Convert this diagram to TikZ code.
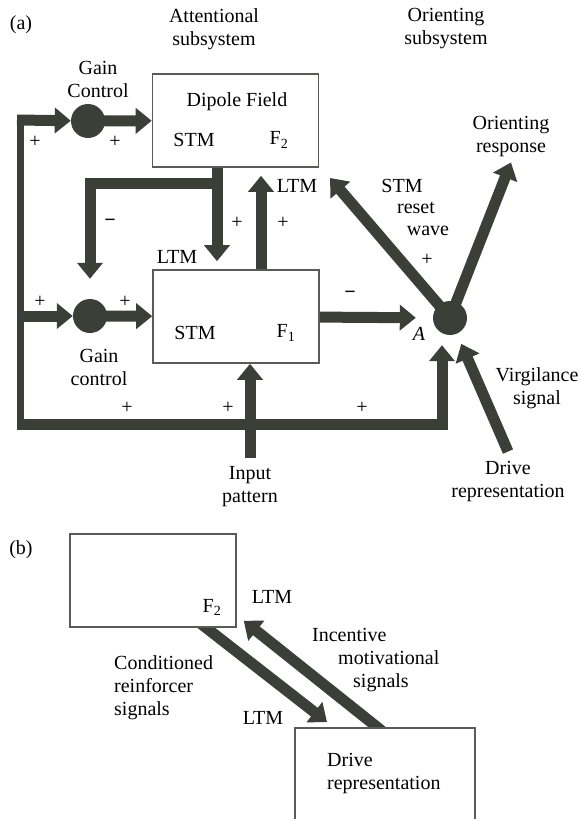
\documentclass[tikz,border=0pt]{standalone}
\usepackage{fontspec}
\setmainfont{Liberation Serif}
\usepackage{tikz}
\usetikzlibrary{arrows.meta,positioning,calc,backgrounds}
\definecolor{arrowgray}{HTML}{3C3E38}
\definecolor{boxgray}{HTML}{5A5A58}

\begin{document}
\begin{tikzpicture}[x=1pt,y=-1pt,
txt/.style={font=\fontsize{20}{23}\selectfont,align=center,inner sep=1pt},
sgn/.style={font=\fontsize{20}{23}\selectfont,inner sep=0pt},
box/.style={draw=boxgray,line width=1.6pt,fill=white,
minimum width=166pt,minimum height=93pt,inner sep=0pt},
gain/.style={circle,fill=arrowgray,minimum size=34pt,inner sep=0pt},
bar/.style={draw=arrowgray,line width=11pt},
arr/.style={bar,-{Triangle[width=25pt,length=16pt]}}
]
\useasboundingbox (0,0) rectangle (581,819);
\clip (0,0) rectangle (581,819);

% (a) attentional and orienting subsystems
\node[txt] (lbla)   at (21,25)   {(a)};
\node[txt] (attn)   at (214,29)  {Attentional\\subsystem};
\node[txt] (orsub)  at (446,29)  {Orienting\\subsystem};
\node[txt] (gtxt)   at (98,79)   {Gain\\Control};
\node[box] (ftwo)   at (235.5,120.5) {};
\node[box] (fone)   at (236,316.5) {};
\node[gain] (gtop)  at (88,121) {};
\node[gain] (gbot)  at (90,316) {};
\node[gain] (A)     at (450,318) {};
\node[txt] (dip)    at (237,102) {Dipole Field};
\node[txt] (stmtwo) at (194,140) {STM};
\node[txt] (ftwolbl) at (279,140) {F\textsubscript{2}};
\node[txt] (stmone) at (195,333) {STM};
\node[txt] (fonelbl) at (286,333) {F\textsubscript{1}};
\node[txt] (ltmup)  at (297,186) {LTM};
\node[txt] (ltmdn)  at (177,257) {LTM};
\node[txt] (gctl)   at (99,367)  {Gain\\control};
\node[txt] (inp)    at (250,487) {Input\\pattern};
\node[txt] (alab)   at (419,334) {\itshape A};
\node[txt] (stmr)   at (402,186) {STM};
\node[txt] (rset)   at (416,208) {reset};
\node[txt] (wave)   at (428,231) {wave};
\node[txt] (oresp)  at (511,137) {Orienting\\response};
\node[txt] (virg)   at (537,388) {Virgilance\\signal};
\node[txt] (drv)    at (508,482) {Drive\\representation};
\foreach \x/\y [count=\i] in {35/142,115/142,237/223,283/223,40/302,125/302,
  127/408,228/408,362/408,427/260}
  \node[sgn] (p\i) at (\x,\y) {+};
\node[sgn,font=\fontsize{20}{23}\selectfont\bfseries] (m1) at (110,223) {−};
\node[sgn,font=\fontsize{20}{23}\selectfont\bfseries] (m2) at (350,295) {−};
\coordinate (tin)  at (17,120);
\coordinate (bin)  at (17,316);
\coordinate (bbar) at (17,424);
\coordinate (rst)  at (330,178);

% (b) drive representation
\node[txt] (lblb)   at (21,550)  {(b)};
\node[box] (ftwob)  at (153,580.5) {};
\node[box,minimum width=180pt,minimum height=120pt,anchor=north west] (drive) at (294,727) {};
\node[txt] (ftwoblbl) at (212,607) {F\textsubscript{2}};
\node[txt] (ltmbt)  at (272,597) {LTM};
\node[txt] (ltmbb)  at (263,718) {LTM};
\node[txt,align=left,anchor=west] (cond) at (113,688) {Conditioned\\reinforcer\\signals};
\node[txt,anchor=west] (inca) at (311,635) {Incentive};
\node[txt,anchor=west] (incb) at (337,658) {motivational};
\node[txt,anchor=west] (incc) at (352,683) {signals};
\node[txt,align=left,anchor=west] (drvb) at (326,773) {Drive\\representation};

\begin{scope}[on background layer]
\draw[bar,line width=7pt] ([xshift=3pt,yshift=5pt]tin) -- ([xshift=3pt,yshift=-6pt]bbar);
\draw[arr] (tin) -- (gtop);
\draw[arr] (bin) -- (gbot);
\draw[arr] (gtop.center) -- (ftwo);
\draw[arr] (gbot.center) -- (fone);
\draw[arr,shorten >=8pt] ([xshift=-18.5pt]ftwo.south) -- ([xshift=-18.5pt]ftwo.south |- fone.north);
\draw[arr,shorten >=20pt] ([xshift=-18.5pt]ftwo.south) -- ++(0,16) -| (gbot.north);
\draw[arr,shorten >=8pt] ([xshift=25pt]fone.north) -- ([xshift=25pt]fone.north |- ftwo.south);
\draw[arr] ([yshift=8pt]inp.north) -- (inp.north |- fone.south);
\draw[arr,shorten >=10pt] (bbar) -| ([xshift=-8pt]A.south);
\draw[arr,shorten >=17pt] (fone) -- (A);
\draw[arr] (A.center) -- (rst);
\draw[arr] (A.center) -- ([yshift=-4pt]oresp.south);
\draw[arr,shorten >=11pt] ([yshift=9pt]drv.north) -- (A);
\draw[arr] ([xshift=-37pt,yshift=5pt]ftwob.south east) -- ([xshift=33pt,yshift=5pt]drive.north west);
\draw[arr] ([xshift=88pt,yshift=-4pt]drive.north west) -- ([xshift=7pt,yshift=7pt]ftwob.south east);
\end{scope}
\end{tikzpicture}
\end{document}
